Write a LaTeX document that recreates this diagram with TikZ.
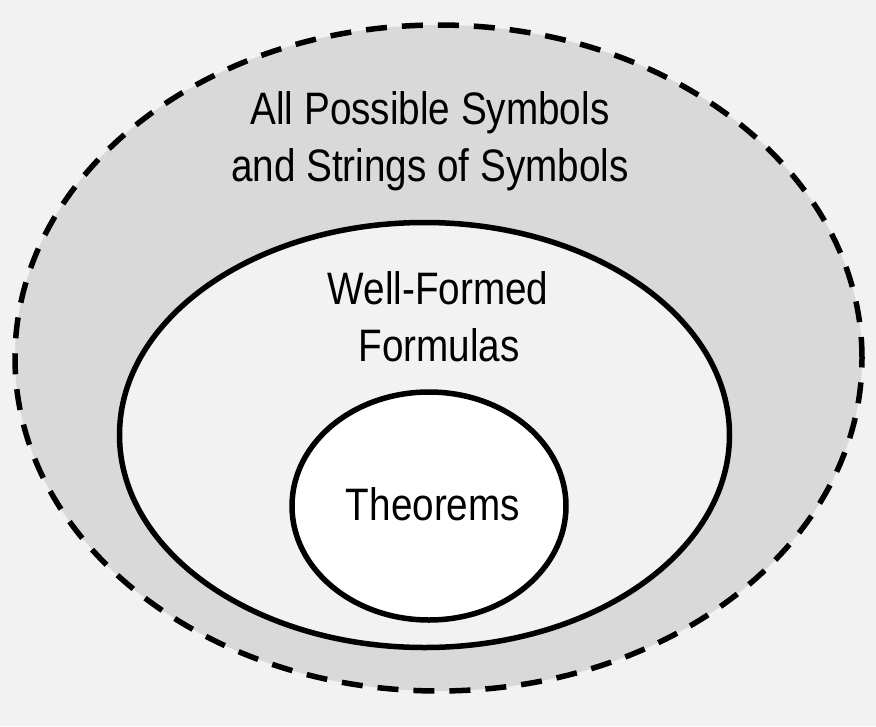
\documentclass[tikz,border=0pt]{standalone}
\usepackage{fontspec}
\setmainfont{Liberation Sans}
\usetikzlibrary{shapes.geometric}
\definecolor{bgcol}{HTML}{F2F2F2}
\definecolor{outerfill}{HTML}{D9D9D9}
\newcommand{\sq}[1]{\scalebox{0.85}[1]{#1}}
\tikzset{
  setbox/.style={ellipse, inner sep=0pt, draw=black, line width=5.5pt},
  lbl/.style={anchor=base, inner sep=0pt, font=\fontsize{45.5}{50}\selectfont, text=black}
}
\begin{document}
\begin{tikzpicture}[x=1pt, y=-1pt]
  \fill[bgcol] (0,0) rectangle (876,726);
  \useasboundingbox (0,0) rectangle (876,726);
  \node[setbox, fill=outerfill, line width=5.5pt, dash pattern=on 21pt off 15pt,
        minimum width=847pt, minimum height=666pt] (all) at (438.5,358) {};
  \node[setbox, fill=bgcol, minimum width=610pt, minimum height=425pt] (wff) at (424.5,435) {};
  \node[setbox, fill=white, minimum width=274pt, minimum height=228pt] (thm) at (429,506) {};
  \node[lbl] (t1) at (430,124) {\sq{All Possible Symbols}};
  \node[lbl] (t2) at (430,181) {\sq{and Strings of Symbols}};
  \node[lbl] (t3) at (438,304) {\sq{Well-Formed}};
  \node[lbl] (t4) at (439,361) {\sq{Formulas}};
  \node[lbl] (t5) at (433,520) {\sq{Theorems}};
\end{tikzpicture}
\end{document}
